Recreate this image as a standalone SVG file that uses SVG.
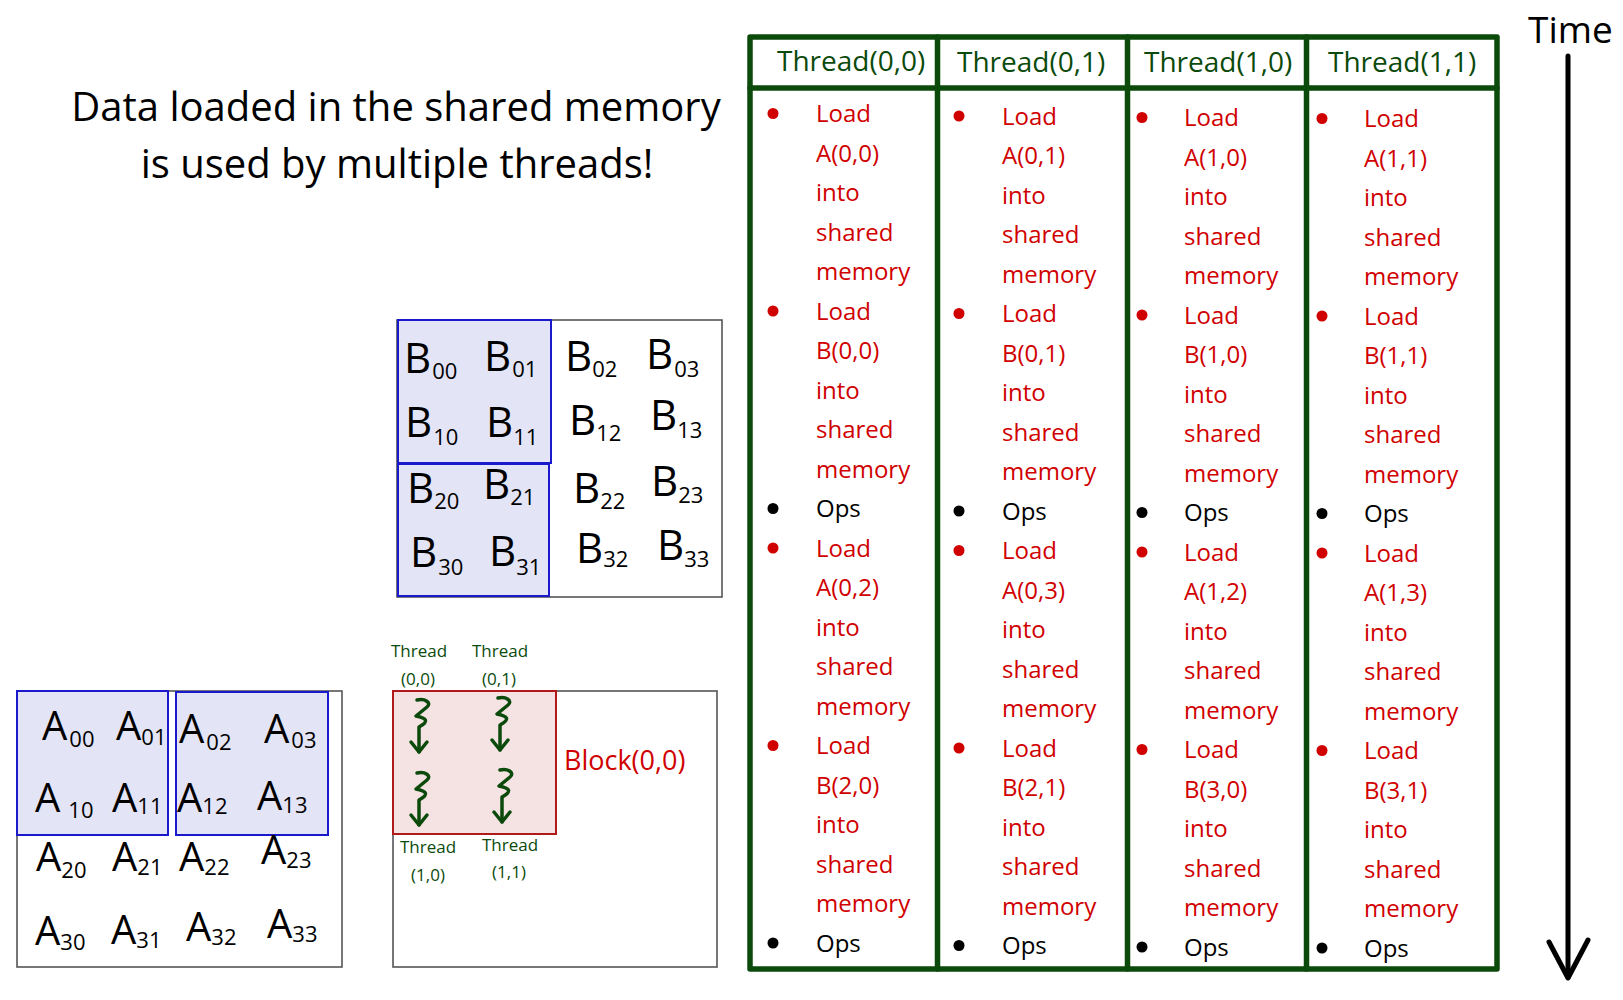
<svg xmlns="http://www.w3.org/2000/svg" width="1623" height="1000" viewBox="0 0 1623 1000">
<style>
  text { font-family: "Open Sans", "DejaVu Sans", sans-serif; }
  .title { font-size: 40px; fill: #000; text-anchor: middle; }
  .hdr { font-size: 28px; fill: #0b4a0b; }
  .cell { font-size: 24px; fill: #d00000; }
  .ops { fill: #000; }
  .grid { fill: none; stroke: #0b4a0b; stroke-width: 5.5; stroke-linecap: round; stroke-linejoin: round; }
  .mat { fill: #fff; stroke: #555; stroke-width: 1.6; }
  .tile { fill: #e4e4f7; stroke: #1a1acc; stroke-width: 2; }
  .blk { fill: #f5e3e3; stroke: #b01a1a; stroke-width: 2; }
  .sym { font-size: 42px; fill: #000; }
  .asym { font-size: 40px; fill: #000; }
  .sub { font-size: 22px; }
  .tl { font-size: 17px; fill: #0b4a0b; text-anchor: middle; }
  .blabel { font-size: 27px; fill: #d00000; }
  .squig { fill: none; stroke: #0b4a0b; stroke-width: 3.5; stroke-linecap: round; stroke-linejoin: round; }
  .rb { fill: #d00000; }
  .kb { fill: #000; }
  .time { font-size: 37px; fill: #000; }
  .tarrow { fill: none; stroke: #000; stroke-width: 5; stroke-linecap: round; stroke-linejoin: round; }
</style>
<defs>
  <g id="thread-arrow">
    <path class="squig" d="M0,0 C8,-2 15,3 10,7 L -1,16 C 9,18 13,21 2,27 L 2,52"/>
    <path class="squig" d="M-6,42 L2,52 L10,42"/>
  </g>
</defs>
<rect width="1623" height="1000" fill="#fff"/>

<g id="title">
  <text class="title" x="396" y="121">Data loaded in the shared memory</text>
  <text class="title" x="397" y="178">is used by multiple threads!</text>
</g>

<g id="matrix-B">
  <rect class="mat" x="397" y="320" width="325" height="277"/>
  <rect class="tile" x="398" y="320" width="153" height="143"/>
  <rect class="tile" x="398" y="464" width="151" height="132"/>
  <text class="sym" x="404" y="373">B<tspan class="sub" dx="1" dy="6">00</tspan></text>
  <text class="sym" x="484" y="371">B<tspan class="sub" dx="1" dy="6">01</tspan></text>
  <text class="sym" x="565" y="371">B<tspan class="sub" dx="0" dy="6">02</tspan></text>
  <text class="sym" x="646" y="369">B<tspan class="sub" dx="1" dy="8">03</tspan></text>
  <text class="sym" x="405" y="437">B<tspan class="sub" dx="1" dy="8">10</tspan></text>
  <text class="sym" x="486" y="437">B<tspan class="sub" dx="0" dy="8">11</tspan></text>
  <text class="sym" x="569" y="435">B<tspan class="sub" dx="0" dy="6">12</tspan></text>
  <text class="sym" x="650" y="430">B<tspan class="sub" dx="0" dy="8">13</tspan></text>
  <text class="sym" x="407" y="503">B<tspan class="sub" dx="0" dy="6">20</tspan></text>
  <text class="sym" x="483" y="499">B<tspan class="sub" dx="0" dy="6">21</tspan></text>
  <text class="sym" x="573" y="503">B<tspan class="sub" dx="0" dy="6">22</tspan></text>
  <text class="sym" x="651" y="496">B<tspan class="sub" dx="0" dy="7">23</tspan></text>
  <text class="sym" x="410" y="567">B<tspan class="sub" dx="1" dy="8">30</tspan></text>
  <text class="sym" x="489" y="566">B<tspan class="sub" dx="0" dy="9">31</tspan></text>
  <text class="sym" x="576" y="563">B<tspan class="sub" dx="0" dy="4">32</tspan></text>
  <text class="sym" x="657" y="560">B<tspan class="sub" dx="0" dy="7">33</tspan></text>
</g>

<g id="matrix-A">
  <rect class="mat" x="17" y="691" width="325" height="276"/>
  <rect class="tile" x="17" y="691" width="151" height="144"/>
  <rect class="tile" x="176" y="692" width="152" height="143"/>
  <text class="asym" x="42" y="740">A<tspan class="sub" dx="2" dy="7">00</tspan></text>
  <text class="asym" x="116" y="740">A<tspan class="sub" dx="0" dy="5">01</tspan></text>
  <text class="asym" x="179" y="743">A<tspan class="sub" dx="2" dy="7">02</tspan></text>
  <text class="asym" x="264" y="743">A<tspan class="sub" dx="2" dy="5">03</tspan></text>
  <text class="asym" x="35" y="812">A<tspan class="sub" dx="8" dy="6">10</tspan></text>
  <text class="asym" x="112" y="812">A<tspan class="sub" dx="0" dy="2">11</tspan></text>
  <text class="asym" x="177" y="812">A<tspan class="sub" dx="0" dy="2">12</tspan></text>
  <text class="asym" x="257" y="810">A<tspan class="sub" dx="0" dy="3">13</tspan></text>
  <text class="asym" x="36" y="871">A<tspan class="sub" dx="0" dy="7">20</tspan></text>
  <text class="asym" x="112" y="871">A<tspan class="sub" dx="0" dy="4">21</tspan></text>
  <text class="asym" x="179" y="871">A<tspan class="sub" dx="0" dy="4">22</tspan></text>
  <text class="asym" x="261" y="864">A<tspan class="sub" dx="0" dy="4">23</tspan></text>
  <text class="asym" x="35" y="945">A<tspan class="sub" dx="0" dy="5">30</tspan></text>
  <text class="asym" x="111" y="944">A<tspan class="sub" dx="0" dy="4">31</tspan></text>
  <text class="asym" x="186" y="941">A<tspan class="sub" dx="0" dy="4">32</tspan></text>
  <text class="asym" x="267" y="938">A<tspan class="sub" dx="0" dy="4">33</tspan></text>
</g>

<g id="block">
  <rect class="mat" x="393" y="691" width="324" height="276"/>
  <rect class="blk" x="393" y="691" width="163" height="143"/>
  <text class="blabel" x="564" y="770">Block(0,0)</text>
  <text class="tl" x="419" y="657">Thread</text>
  <text class="tl" x="418" y="685">(0,0)</text>
  <text class="tl" x="500" y="657">Thread</text>
  <text class="tl" x="499" y="685">(0,1)</text>
  <text class="tl" x="428" y="853">Thread</text>
  <text class="tl" x="428" y="881">(1,0)</text>
  <text class="tl" x="510" y="851">Thread</text>
  <text class="tl" x="509" y="878">(1,1)</text>
  <use href="#thread-arrow" x="417" y="700"/>
  <use href="#thread-arrow" x="498" y="698"/>
  <use href="#thread-arrow" x="417" y="773"/>
  <use href="#thread-arrow" x="500" y="770"/>
</g>

<g id="table">
  <rect class="grid" x="750" y="37" width="747" height="932"/>
  <line class="grid" x1="750" y1="88" x2="1497" y2="88"/>
  <line class="grid" x1="937.5" y1="37" x2="937.5" y2="969"/>
  <line class="grid" x1="1127.5" y1="37" x2="1127.5" y2="969"/>
  <line class="grid" x1="1306.5" y1="37" x2="1306.5" y2="969"/>
</g>

<g id="thread-0-0">
  <text class="hdr" x="777" y="71">Thread(0,0)</text>
  <g transform="translate(0,122)">
    <circle class="rb" cx="773" cy="-8.5" r="5.5"/>
    <circle class="rb" cx="773" cy="189" r="5.5"/>
    <circle class="kb" cx="773" cy="386.5" r="5.5"/>
    <circle class="rb" cx="773" cy="426" r="5.5"/>
    <circle class="rb" cx="773" cy="623.5" r="5.5"/>
    <circle class="kb" cx="773" cy="821" r="5.5"/>
    <text class="cell" x="816" y="0"><tspan x="816" dy="0">Load</tspan><tspan x="816" dy="39.5">A(0,0)</tspan><tspan x="816" dy="39.5">into</tspan><tspan x="816" dy="39.5">shared</tspan><tspan x="816" dy="39.5">memory</tspan><tspan x="816" dy="39.5">Load</tspan><tspan x="816" dy="39.5">B(0,0)</tspan><tspan x="816" dy="39.5">into</tspan><tspan x="816" dy="39.5">shared</tspan><tspan x="816" dy="39.5">memory</tspan><tspan class="ops" x="816" dy="39.5">Ops</tspan><tspan x="816" dy="39.5">Load</tspan><tspan x="816" dy="39.5">A(0,2)</tspan><tspan x="816" dy="39.5">into</tspan><tspan x="816" dy="39.5">shared</tspan><tspan x="816" dy="39.5">memory</tspan><tspan x="816" dy="39.5">Load</tspan><tspan x="816" dy="39.5">B(2,0)</tspan><tspan x="816" dy="39.5">into</tspan><tspan x="816" dy="39.5">shared</tspan><tspan x="816" dy="39.5">memory</tspan><tspan class="ops" x="816" dy="39.5">Ops</tspan></text>
  </g>
</g>

<g id="thread-0-1">
  <text class="hdr" x="957" y="72">Thread(0,1)</text>
  <g transform="translate(0,124.5)">
    <circle class="rb" cx="959" cy="-8.5" r="5.5"/>
    <circle class="rb" cx="959" cy="189" r="5.5"/>
    <circle class="kb" cx="959" cy="386.5" r="5.5"/>
    <circle class="rb" cx="959" cy="426" r="5.5"/>
    <circle class="rb" cx="959" cy="623.5" r="5.5"/>
    <circle class="kb" cx="959" cy="821" r="5.5"/>
    <text class="cell" x="1002" y="0"><tspan x="1002" dy="0">Load</tspan><tspan x="1002" dy="39.5">A(0,1)</tspan><tspan x="1002" dy="39.5">into</tspan><tspan x="1002" dy="39.5">shared</tspan><tspan x="1002" dy="39.5">memory</tspan><tspan x="1002" dy="39.5">Load</tspan><tspan x="1002" dy="39.5">B(0,1)</tspan><tspan x="1002" dy="39.5">into</tspan><tspan x="1002" dy="39.5">shared</tspan><tspan x="1002" dy="39.5">memory</tspan><tspan class="ops" x="1002" dy="39.5">Ops</tspan><tspan x="1002" dy="39.5">Load</tspan><tspan x="1002" dy="39.5">A(0,3)</tspan><tspan x="1002" dy="39.5">into</tspan><tspan x="1002" dy="39.5">shared</tspan><tspan x="1002" dy="39.5">memory</tspan><tspan x="1002" dy="39.5">Load</tspan><tspan x="1002" dy="39.5">B(2,1)</tspan><tspan x="1002" dy="39.5">into</tspan><tspan x="1002" dy="39.5">shared</tspan><tspan x="1002" dy="39.5">memory</tspan><tspan class="ops" x="1002" dy="39.5">Ops</tspan></text>
  </g>
</g>

<g id="thread-1-0">
  <text class="hdr" x="1144" y="72">Thread(1,0)</text>
  <g transform="translate(0,126)">
    <circle class="rb" cx="1142" cy="-8.5" r="5.5"/>
    <circle class="rb" cx="1142" cy="189" r="5.5"/>
    <circle class="kb" cx="1142" cy="386.5" r="5.5"/>
    <circle class="rb" cx="1142" cy="426" r="5.5"/>
    <circle class="rb" cx="1142" cy="623.5" r="5.5"/>
    <circle class="kb" cx="1142" cy="821" r="5.5"/>
    <text class="cell" x="1184" y="0"><tspan x="1184" dy="0">Load</tspan><tspan x="1184" dy="39.5">A(1,0)</tspan><tspan x="1184" dy="39.5">into</tspan><tspan x="1184" dy="39.5">shared</tspan><tspan x="1184" dy="39.5">memory</tspan><tspan x="1184" dy="39.5">Load</tspan><tspan x="1184" dy="39.5">B(1,0)</tspan><tspan x="1184" dy="39.5">into</tspan><tspan x="1184" dy="39.5">shared</tspan><tspan x="1184" dy="39.5">memory</tspan><tspan class="ops" x="1184" dy="39.5">Ops</tspan><tspan x="1184" dy="39.5">Load</tspan><tspan x="1184" dy="39.5">A(1,2)</tspan><tspan x="1184" dy="39.5">into</tspan><tspan x="1184" dy="39.5">shared</tspan><tspan x="1184" dy="39.5">memory</tspan><tspan x="1184" dy="39.5">Load</tspan><tspan x="1184" dy="39.5">B(3,0)</tspan><tspan x="1184" dy="39.5">into</tspan><tspan x="1184" dy="39.5">shared</tspan><tspan x="1184" dy="39.5">memory</tspan><tspan class="ops" x="1184" dy="39.5">Ops</tspan></text>
  </g>
</g>

<g id="thread-1-1">
  <text class="hdr" x="1328" y="72">Thread(1,1)</text>
  <g transform="translate(0,127)">
    <circle class="rb" cx="1322" cy="-8.5" r="5.5"/>
    <circle class="rb" cx="1322" cy="189" r="5.5"/>
    <circle class="kb" cx="1322" cy="386.5" r="5.5"/>
    <circle class="rb" cx="1322" cy="426" r="5.5"/>
    <circle class="rb" cx="1322" cy="623.5" r="5.5"/>
    <circle class="kb" cx="1322" cy="821" r="5.5"/>
    <text class="cell" x="1364" y="0"><tspan x="1364" dy="0">Load</tspan><tspan x="1364" dy="39.5">A(1,1)</tspan><tspan x="1364" dy="39.5">into</tspan><tspan x="1364" dy="39.5">shared</tspan><tspan x="1364" dy="39.5">memory</tspan><tspan x="1364" dy="39.5">Load</tspan><tspan x="1364" dy="39.5">B(1,1)</tspan><tspan x="1364" dy="39.5">into</tspan><tspan x="1364" dy="39.5">shared</tspan><tspan x="1364" dy="39.5">memory</tspan><tspan class="ops" x="1364" dy="39.5">Ops</tspan><tspan x="1364" dy="39.5">Load</tspan><tspan x="1364" dy="39.5">A(1,3)</tspan><tspan x="1364" dy="39.5">into</tspan><tspan x="1364" dy="39.5">shared</tspan><tspan x="1364" dy="39.5">memory</tspan><tspan x="1364" dy="39.5">Load</tspan><tspan x="1364" dy="39.5">B(3,1)</tspan><tspan x="1364" dy="39.5">into</tspan><tspan x="1364" dy="39.5">shared</tspan><tspan x="1364" dy="39.5">memory</tspan><tspan class="ops" x="1364" dy="39.5">Ops</tspan></text>
  </g>
</g>

<g id="time">
  <text class="time" x="1528" y="43">Time</text>
</g>

<g id="connectors">
  <line class="tarrow" x1="1568" y1="56" x2="1568" y2="977"/>
  <polyline class="tarrow" points="1549,942 1568,978 1588,940"/>
</g>
</svg>
